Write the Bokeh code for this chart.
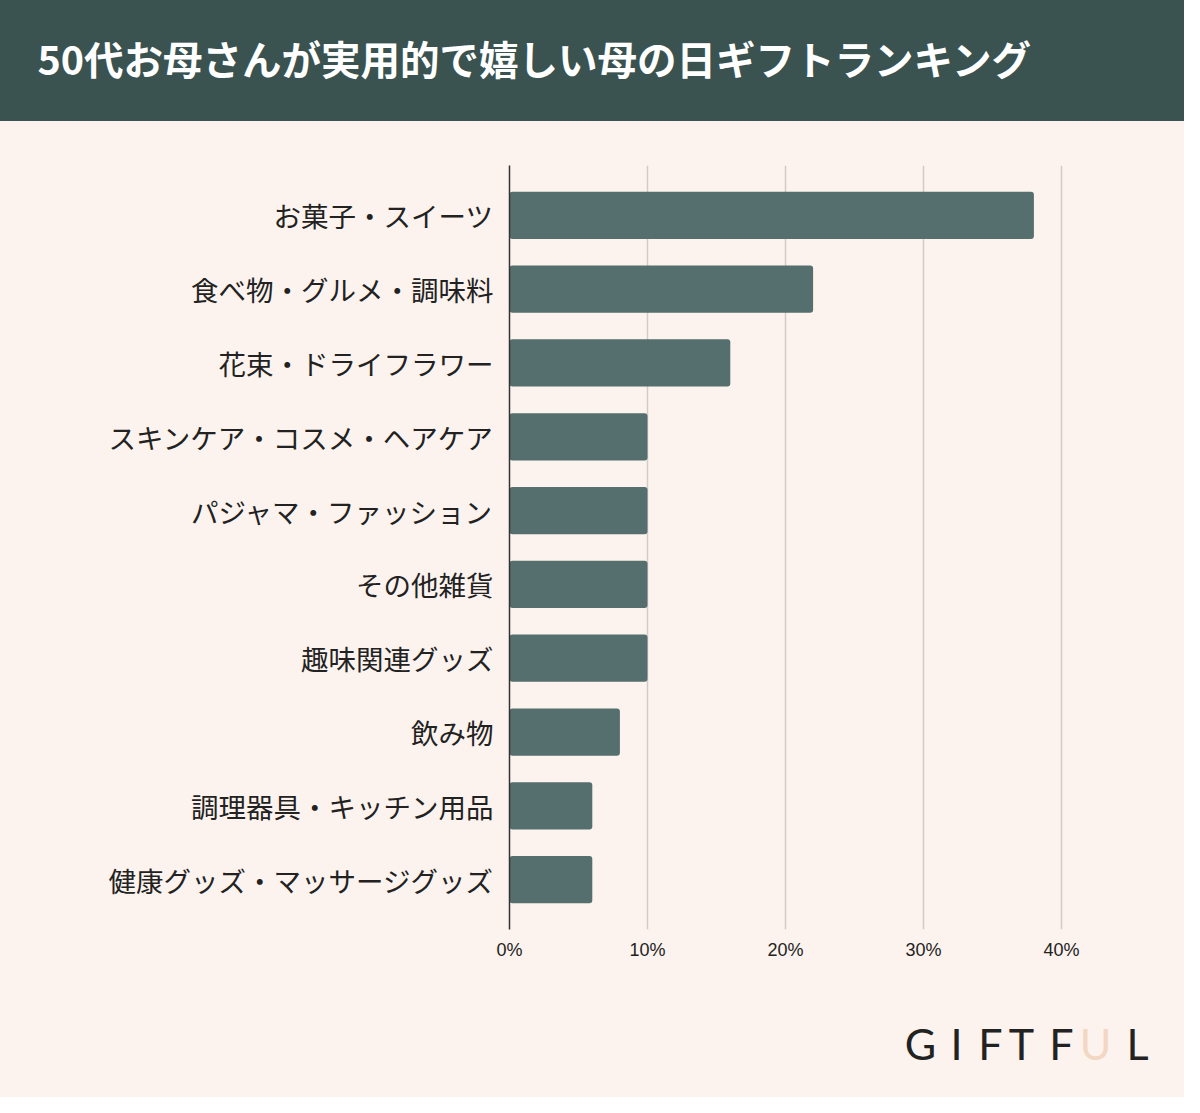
from bokeh.plotting import figure
from bokeh.models import (FactorRange, Range1d, Label, FixedTicker,
                          PrintfTickFormatter, ColumnDataSource)
from bokeh.layouts import column
from bokeh.embed import file_html
from bokeh.resources import INLINE

# ---------------- data ----------------
title_text = "50代お母さんが実用的で嬉しい母の日ギフトランキング"
categories = [
    "お菓子・スイーツ",
    "食べ物・グルメ・調味料",
    "花束・ドライフラワー",
    "スキンケア・コスメ・ヘアケア",
    "パジャマ・ファッション",
    "その他雑貨",
    "趣味関連グッズ",
    "飲み物",
    "調理器具・キッチン用品",
    "健康グッズ・マッサージグッズ",
]
shares = [38, 22, 16, 10, 10, 10, 10, 8, 6, 6]   # percent
x_ticks = [0, 10, 20, 30, 40]
logo_letters = ["G", "I", "F", "T", "F", "U", "L"]
logo_colors = ["#222222", "#222222", "#222222", "#222222", "#222222", "#F3D7C2", "#222222"]

# ---------------- style / layout ----------------
BG = "#FCF3EE"
HEAD = "#3A5351"
BAR = "#546F6D"
W = 1184
HEAD_H, MAIN_H, FOOT_H = 121, 855, 121
FL, FR = 509, 8          # left / right borders shared by all three panels
FW = W - FL - FR         # frame width in px
PX_PER_PCT = 13.8        # 10% = 138 px
JP = "Noto Sans CJK JP"


def plain(fig, color):
    fig.background_fill_color = None
    fig.border_fill_color = None
    fig.outline_line_color = None
    fig.styles = {"background-color": color}


# ---------------- header ----------------
head = figure(width=W, height=HEAD_H, x_range=Range1d(0, 1), y_range=Range1d(0, 1),
              output_backend="svg", toolbar_location=None,
              min_border_left=FL, min_border_right=FR, min_border_top=85, min_border_bottom=0)
plain(head, HEAD)
head.axis.visible = False
head.grid.visible = False
head.title.text = title_text
head.title.align = "left"
head.title.offset = 37 - FL
head.title.text_color = "white"
head.title.text_font = JP
head.title.text_font_size = "39.5px"
head.title.text_font_style = "bold"
head.title.vertical_align = "bottom"
head.title.standoff = 0

# ---------------- main chart ----------------
src = ColumnDataSource(dict(cat=categories, val=shares))
p = figure(width=W, height=MAIN_H, title=None,
           y_range=FactorRange(factors=list(reversed(categories)),
                               range_padding=0.175, range_padding_units="absolute"),
           x_range=Range1d(0, FW / PX_PER_PCT),
           output_backend="svg", toolbar_location=None,
           min_border_left=FL, min_border_right=FR,
           min_border_top=44, min_border_bottom=47)
plain(p, BG)

p.hbar(y="cat", right="val", left=0, height=0.64, source=src,
       fill_color=BAR, line_color=None, border_radius=3)

p.ygrid.grid_line_color = None
p.xgrid.ticker = FixedTicker(ticks=x_ticks)
p.xgrid.grid_line_color = "#D3CBC8"
p.xgrid.grid_line_width = 1.5

xa = p.xaxis[0]
xa.ticker = FixedTicker(ticks=x_ticks)
xa.formatter = PrintfTickFormatter(format="%d%%")
xa.axis_line_color = None
xa.major_tick_line_color = None
xa.minor_tick_line_color = None
xa.major_label_standoff = 4
xa.major_label_text_font = "Liberation Sans"
xa.major_label_text_font_size = "18px"
xa.major_label_text_color = "#222222"

ya = p.yaxis[0]
ya.axis_line_color = "#333333"
ya.axis_line_width = 1.5
ya.major_tick_line_color = None
ya.minor_tick_line_color = None
ya.major_label_standoff = 10
ya.major_label_text_font = JP
ya.major_label_text_font_size = "27.5px"
ya.major_label_text_color = "#222222"

# ---------------- footer / logo ----------------
foot = figure(width=W, height=FOOT_H, title=None,
              x_range=Range1d(FL, W - FR), y_range=Range1d(FOOT_H, 0),
              output_backend="svg", toolbar_location=None,
              min_border_left=FL, min_border_right=FR, min_border_top=0, min_border_bottom=0)
plain(foot, BG)
foot.axis.visible = False
foot.grid.visible = False
logo_x = [920, 956, 990, 1021, 1061, 1095, 1137]
for ch, col, lx in zip(logo_letters, logo_colors, logo_x):
    foot.add_layout(Label(x=lx, y=66.5, text=ch, text_color=col, text_font="Lato",
                          text_font_size="43px", text_align="center",
                          text_baseline="alphabetic"))

layout = column(head, p, foot, spacing=0)
open("out.html", "w").write(file_html(layout, INLINE))
